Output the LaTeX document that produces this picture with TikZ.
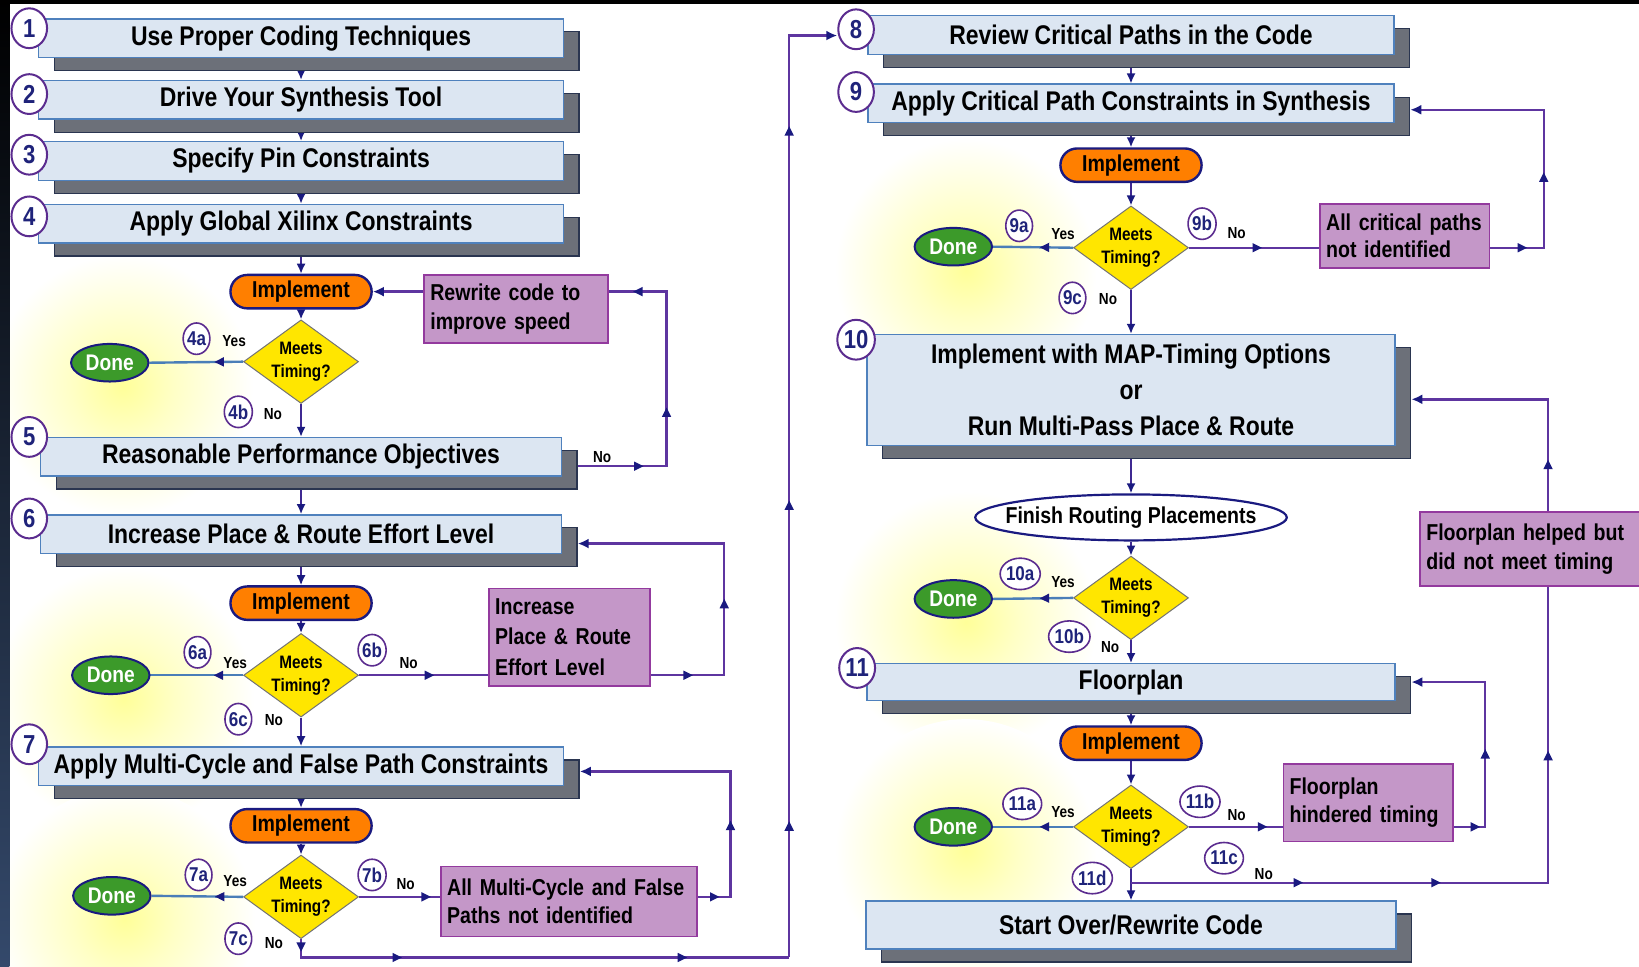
\documentclass[tikz,border=0pt]{standalone}
\usepackage{fontspec}
\setmainfont{Liberation Sans}[FakeStretch=0.85]
\usetikzlibrary{shapes.geometric,shapes.misc,shadows,calc,arrows.meta}
\definecolor{boxfill}{HTML}{DCE6F2}
\definecolor{boxedge}{HTML}{4F81BD}
\definecolor{shadowc}{HTML}{6C7079}
\definecolor{shadowedge}{HTML}{2A3550}
\definecolor{navy}{HTML}{1A1A80}
\definecolor{loopc}{HTML}{5E35A0}
\definecolor{purfill}{HTML}{C497C8}
\definecolor{puredge}{HTML}{933A9E}
\definecolor{implfill}{HTML}{FF7F00}
\definecolor{donefill}{HTML}{3C9A2A}
\definecolor{diafill}{HTML}{FFE600}
\definecolor{doneline}{HTML}{4A7EB8}
\definecolor{circedge}{HTML}{5B2C8F}
\definecolor{numtext}{HTML}{1F237A}
\definecolor{stripb}{HTML}{34496B}
\pgfdeclarelayer{back}
\pgfdeclarelayer{glow}
\pgfdeclarelayer{bg}
\pgfsetlayers{back,glow,bg,main}
\pgfdeclareradialshading{glowsh}{\pgfpoint{0bp}{0bp}}{color(0bp)=(yellow!40!white); color(10bp)=(yellow!22!white); color(25bp)=(white); color(50bp)=(white)}
\tikzset{
  stepbox/.style={draw=boxedge, line width=0.7pt, fill=boxfill, minimum height=19.3pt, inner sep=0pt, align=center,
    font=\bfseries\fontsize{13.5}{17.8}\selectfont,
    drop shadow={shadow xshift=7.8pt, shadow yshift=-6.5pt, fill=shadowc, draw=shadowedge, line width=0.6pt, opacity=1}},
  impl/.style={rounded rectangle, draw=navy, line width=1.2pt, fill=implfill, minimum width=70.6pt, minimum height=16.7pt, inner sep=0pt, font=\bfseries\fontsize{11.5}{12}\selectfont},
  dia/.style={diamond, draw=black!55, line width=0.5pt, fill=diafill, minimum width=57.5pt, minimum height=41.8pt, aspect=1.375, inner sep=0pt, align=center, font=\bfseries\fontsize{9}{11.5}\selectfont},
  done/.style={ellipse, draw=navy, line width=1pt, fill=donefill, text=white, minimum width=38.7pt, minimum height=18.8pt, inner sep=0pt, font=\bfseries\fontsize{11.3}{12}\selectfont},
  note/.style={draw=puredge, line width=0.9pt, fill=purfill, inner xsep=3pt, inner ysep=0pt, align=left, font=\bfseries\fontsize{11.5}{14.2}\selectfont},
  fin/.style={ellipse, draw=navy, line width=1.1pt, fill=white, minimum width=155.8pt, minimum height=23pt, inner xsep=-8pt, inner ysep=0pt, font=\bfseries\fontsize{11.5}{12}\selectfont},
  num/.style={ellipse, draw=circedge, line width=1pt, fill=white, minimum width=17.8pt, minimum height=19.9pt, inner sep=0.5pt, text=numtext, font=\bfseries\fontsize{13}{13}\selectfont},
  lab/.style={ellipse, draw=circedge, line width=0.8pt, fill=white, minimum width=12.5pt, minimum height=15.7pt, inner sep=0pt, text=numtext, font=\bfseries\fontsize{10}{10}\selectfont},
  yn/.style={inner sep=0pt, font=\bfseries\fontsize{8}{8}\selectfont},
  flow/.style={draw=loopc!55!navy, line width=0.9pt, -{Latex[length=5pt,width=4.5pt,color=navy]}},
  loopl/.style={draw=loopc, line width=1.2pt},
  loopa/.style={loopl, -{Latex[length=5.5pt,width=5pt,color=navy]}},
  yesl/.style={draw=doneline, line width=1.2pt},
  atp/.style={pos=#1, sloped, allow upside down},
  marr/.pic={\fill[navy] (5,0) -- (-4,-4.5) -- (-4,4.5) -- cycle;},
}
\begin{document}
\begin{tikzpicture}[x=0.5227pt, y=-0.5227pt]
\useasboundingbox (0,0) rectangle (1568,925);
\begin{pgfonlayer}{back}
\fill[white] (0,0) rectangle (1568,925);
\end{pgfonlayer}

% ---------- left column ----------
\node[stepbox, minimum width=262.4pt] (b1) at (288,36.5) {Use Proper Coding Techniques};
\node[stepbox, minimum width=262.4pt] (b2) at (288,95.5) {Drive Your Synthesis Tool};
\node[stepbox, minimum width=262.4pt] (b3) at (288,154) {Specify Pin Constraints};
\node[stepbox, minimum width=262.4pt] (b4) at (288,214) {Apply Global Xilinx Constraints};
\node[impl] (i4) at (288,279) {Implement};
\node[note, text width=86pt, minimum height=34pt] (p4) at (494,295.5) {Rewrite code to\\improve speed};
\node[dia] (d4) at (288,346) {Meets\\Timing?};
\node[done] (o4) at (105,347) {Done};
\node[stepbox, minimum width=260.3pt] (b5) at (288,437) {Reasonable Performance Objectives};
\node[stepbox, minimum width=260.3pt] (b6) at (288,511) {Increase Place \& Route Effort Level};
\node[impl] (i6) at (288,577) {Implement};
\node[dia] (d6) at (288,646) {Meets\\Timing?};
\node[done] (o6) at (106,646) {Done};
\node[note, text width=74.5pt, minimum height=48.6pt, font=\bfseries\fontsize{11.5}{15.2}\selectfont] (p6) at (545,609.5) {Increase\\Place \& Route\\Effort Level};
\node[stepbox, minimum width=262.4pt] (b7) at (288,733) {Apply Multi-Cycle and False Path Constraints};
\node[impl] (i7) at (288,790) {Implement};
\node[dia] (d7) at (288,858) {Meets\\Timing?};
\node[done] (o7) at (107,857) {Done};
\node[note, text width=122pt, minimum height=35pt] (p7) at (544.5,862.5) {All Multi-Cycle and False\\Paths not identified};

% ---------- right column ----------
\node[stepbox, minimum width=262.9pt] (b8) at (1082,33.5) {Review Critical Paths in the Code};
\node[stepbox, minimum width=262.9pt] (b9) at (1082,99) {Apply Critical Path Constraints in Synthesis};
\node[impl] (i9) at (1082,158) {Implement};
\node[dia] (d9) at (1082,237) {Meets\\Timing?};
\node[done] (o9) at (912,236) {Done};
\node[note, text width=78.7pt, minimum height=31.9pt, font=\bfseries\fontsize{11.5}{13.6}\selectfont] (p9) at (1344,225.5) {All critical paths\\not identified};
\node[stepbox, minimum width=264pt, minimum height=55.4pt] (b10) at (1082,373) {Implement with MAP-Timing Options\\or\\Run Multi-Pass Place \& Route};
\node[fin] (f10) at (1082,495) {Finish Routing Placements};
\node[dia] (d10) at (1082,572) {Meets\\Timing?};
\node[done] (o10) at (912,573) {Done};
\node[note, text width=104pt, minimum height=37pt, font=\bfseries\fontsize{11.5}{14.6}\selectfont] (p10) at (1464,525.5) {Floorplan helped but\\did not meet timing};
\node[stepbox, minimum width=264pt, minimum height=18.3pt] (b11) at (1082,652.5) {Floorplan};
\node[impl] (i11) at (1082,711) {Implement};
\node[dia] (d11) at (1082,791) {Meets\\Timing?};
\node[done] (o11) at (912,791) {Done};
\node[note, text width=78.7pt, minimum height=38.7pt] (p11) at (1309,768) {Floorplan\\hindered timing};
\node[stepbox, minimum width=265pt, minimum height=24pt] (bS) at (1082,885) {Start Over/Rewrite Code};

% ---------- numbered circles ----------
\node[num] (n1) at (28,27) {1};
\node[num] (n2) at (28,90) {2};
\node[num] (n3) at (28,148) {3};
\node[num] (n4) at (28,207) {4};
\node[num] (n5) at (28,418) {5};
\node[num] (n6) at (28,496) {6};
\node[num] (n7) at (28,712) {7};
\node[num] (n8) at (819,28) {8};
\node[num] (n9) at (819,88) {9};
\node[num] (n10) at (819,325) {10};
\node[num] (n11) at (820,639) {11};

% ---------- branch labels ----------
\node[lab] (l4a) at (188,324) {4a};  \node[yn] (y4a) at (224,326) {Yes};
\node[lab] (l4b) at (228,394) {4b};  \node[yn] (y4b) at (261,396) {No};
\node[yn] (y5) at (576,437) {No};
\node[lab] (l6a) at (189,624) {6a};  \node[yn] (y6a) at (225,634) {Yes};
\node[lab] (l6b) at (356,622) {6b};  \node[yn] (y6b) at (391,634) {No};
\node[lab] (l6c) at (228,688) {6c};  \node[yn] (y6c) at (262,689) {No};
\node[lab] (l7a) at (190,837) {7a};  \node[yn] (y7a) at (225,843) {Yes};
\node[lab] (l7b) at (356,837) {7b};  \node[yn] (y7b) at (388,846) {No};
\node[lab] (l7c) at (228,898) {7c};  \node[yn] (y7c) at (262,902) {No};
\node[lab] (l9a) at (975,216) {9a};  \node[yn] (y9a) at (1017,224) {Yes};
\node[lab] (l9b) at (1150,214) {9b}; \node[yn] (y9b) at (1183,223) {No};
\node[lab] (l9c) at (1026,285) {9c}; \node[yn] (y9c) at (1060,286) {No};
\node[lab] (l10a) at (976,549) {10a}; \node[yn] (y10a) at (1017,557) {Yes};
\node[lab] (l10b) at (1023,609) {10b}; \node[yn] (y10b) at (1062,619) {No};
\node[lab] (l11a) at (978,769) {11a}; \node[yn] (y11a) at (1017,777) {Yes};
\node[lab] (l11b) at (1148,767) {11b}; \node[yn] (y11b) at (1183,780) {No};
\node[lab] (l11c) at (1171,821) {11c}; \node[yn] (y11c) at (1209,836) {No};
\node[lab] (l11d) at (1045,840) {11d};

\coordinate (k7) at (755,916);
\coordinate (j11) at ($(d11.south)+(0,13)$);

% ---------- glows ----------
\begin{pgfonlayer}{glow}
\foreach \g in {o4,o6,o7,o9,o10,o11}{\shade[shading=glowsh] ($(\g)+(12,22)$) circle[radius=125];}
\end{pgfonlayer}

% ---------- connectors ----------
\begin{pgfonlayer}{bg}
\shade[top color=black, bottom color=stripb] (0,0) rectangle (9,925);
\fill[black] (0,0) rectangle (1568,4);

\draw[flow] (b1.south) -- (b2.north);
\draw[flow] (b2.south) -- (b3.north);
\draw[flow] (b3.south) -- (b4.north);
\draw[flow] (b4.south) -- (i4.north);
\draw[flow] (i4.south) -- (d4.north);
\draw[flow] (d4.south) -- (b5.north);
\draw[flow] (b5.south) -- (b6.north);
\draw[flow] (b6.south) -- (i6.north);
\draw[flow] (i6.south) -- (d6.north);
\draw[flow] (d6.south) -- (b7.north);
\draw[flow] (b7.south) -- (i7.north);
\draw[flow] (i7.south) -- (d7.north);
\draw[flow] (b8.south) -- (b9.north);
\draw[flow] (b9.south) -- (i9.north);
\draw[flow] (i9.south) -- (d9.north);
\draw[flow] (d9.south) -- (b10.north);
\draw[flow] (b10.south) -- (f10.north);
\draw[flow] (f10.south) -- (d10.north);
\draw[flow] (d10.south) -- (b11.north);
\draw[flow] (b11.south) -- (i11.north);
\draw[flow] (i11.south) -- (d11.north);
\draw[flow] (d11.south) -- (bS.north);

% yes lines
\draw[yesl] (d4.west) -- pic[atp=0.25]{marr} (o4.east);
\draw[yesl] (d6.west) -- pic[atp=0.26]{marr} (o6.east);
\draw[yesl] (d7.west) -- pic[atp=0.25]{marr} (o7.east);
\draw[yesl] (d9.west) -- pic[atp=0.35]{marr} (o9.east);
\draw[yesl] (d10.west) -- pic[atp=0.35]{marr} (o10.east);
\draw[yesl] (d11.west) -- pic[atp=0.35]{marr} (o11.east);

% loop 4/5
\draw[loopa] ($(b5.east)+(0,9)$) -- pic[atp=0.73]{marr} ++(100,0) |- pic[atp=0.153]{marr} pic[atp=0.548]{marr} (i4.east);
% loop 6
\draw[loopl] (d6.east) -- pic[atp=0.54]{marr} (p6.west |- d6.east);
\draw[loopa] (p6.east |- d6.east) -- pic[atp=0.5]{marr} ++(70,0) |- pic[atp=0.27]{marr} ($(b6.east)+(15,9)$);
% loop 7
\draw[loopl] (d7.east) -- pic[atp=0.82]{marr} (p7.west |- d7.east);
\draw[loopa] (p7.east |- d7.east) -- pic[atp=0.5]{marr} ++(31,0) |- pic[atp=0.283]{marr} ($(b7.east)+(15,5)$);
% 7c to 8
\draw[loopl] (d7.south) |- pic[atp=0.2]{marr} pic[atp=0.598]{marr} pic[atp=0.89]{marr} (k7);
\draw[loopa] (k7) |- pic[atp=0.071]{marr} pic[atp=0.245]{marr} pic[atp=0.448]{marr} ($(n8.west)+(0,6)$);
% loop 9
\draw[loopl] (d9.east) -- pic[atp=0.52]{marr} (p9.west |- d9.east);
\draw[loopa] (p9.east |- d9.east) -- pic[atp=0.59]{marr} ++(51,0) |- pic[atp=0.254]{marr} ($(b9.east)+(15,6)$);
% loop 11
\draw[loopl] (d11.east) -- pic[atp=0.78]{marr} (p11.west |- d11.east);
\draw[loopa] (p11.east |- d11.east) -- pic[atp=0.67]{marr} ++(30,0) |- pic[atp=0.25]{marr} ($(b11.east)+(15,0)$);
% 11c to 10
\draw[loopa] (j11) -- pic[atp=0.4]{marr} pic[atp=0.73]{marr} ++(399,0) |- pic[atp=0.131]{marr} pic[atp=0.432]{marr} ($(b10.east)+(15,9)$);
\end{pgfonlayer}
\end{tikzpicture}
\end{document}
